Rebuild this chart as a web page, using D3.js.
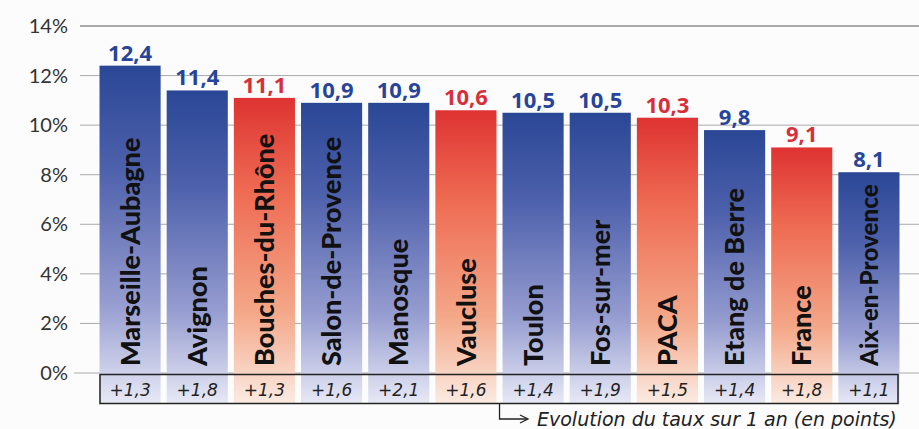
<!DOCTYPE html>
<html><head><meta charset="utf-8">
<script src="https://cdn.jsdelivr.net/npm/d3@7"></script>
<style>body{margin:0;background:#fcfcfc;}svg{display:block;}</style>
</head><body><svg id="c" width="919" height="429"></svg>
<script>
const categories = ["Marseille-Aubagne","Avignon","Bouches-du-Rhône","Salon-de-Provence","Manosque","Vaucluse","Toulon","Fos-sur-mer","PACA","Etang de Berre","France","Aix-en-Provence"];
const rates = [12.4,11.4,11.1,10.9,10.9,10.6,10.5,10.5,10.3,9.8,9.1,8.1];
const evolution = ["+1,3","+1,8","+1,3","+1,6","+2,1","+1,6","+1,4","+1,9","+1,5","+1,4","+1,8","+1,1"];
const highlight = [false,false,true,false,false,true,false,false,true,false,true,false];
const yTicks = [0,2,4,6,8,10,12,14];
const note = "Evolution du taux sur 1 an (en points)";

const svg = d3.select("#c");
const fmt = v => String(v).replace(".", ",");
const x = d3.scaleBand().domain(categories).range([97.5, 901.5]).paddingInner(0.09).paddingOuter(0.03);
const y = d3.scaleLinear().domain([0,14]).range([373,26]);

const defs = svg.append("defs");
const gb = defs.append("linearGradient").attr("id","gb").attr("x1",0).attr("y1",0).attr("x2",0).attr("y2",1);
[[0,"#2a4796"],[0.3,"#4d60ab"],[0.7,"#959cd0"],[1,"#e8e9f6"]].forEach(s=>gb.append("stop").attr("offset",s[0]).attr("stop-color",s[1]));
const gr = defs.append("linearGradient").attr("id","gr").attr("x1",0).attr("y1",0).attr("x2",0).attr("y2",1);
[[0,"#de3332"],[0.3,"#ee6a52"],[0.7,"#f4a788"],[1,"#fbebe2"]].forEach(s=>gr.append("stop").attr("offset",s[0]).attr("stop-color",s[1]));

// gridlines
svg.append("g").selectAll("line").data(yTicks).join("line")
  .attr("x1", d => d===0 ? 74 : 80).attr("x2", 919)
  .attr("y1", d => y(d)).attr("y2", d => y(d))
  .attr("stroke", d => d===14 ? "#555" : "#aaa").attr("stroke-width", 1);

// y tick labels
svg.append("g").selectAll("text").data(yTicks).join("text")
  .attr("x", 68).attr("y", d => y(d)).attr("dy","0.35em")
  .attr("text-anchor","end").attr("font-family","Lato, 'DejaVu Sans', sans-serif")
  .attr("font-size",20).attr("fill","#333").text(d => d + "%");

// bars (extend into bottom box)
svg.append("g").selectAll("rect").data(categories).join("rect")
  .attr("x", d => x(d)).attr("width", x.bandwidth())
  .attr("y", (d,i) => y(rates[i])).attr("height", (d,i) => 404 - y(rates[i]))
  .attr("fill", (d,i) => highlight[i] ? "url(#gr)" : "url(#gb)");

// value labels
svg.append("g").selectAll("text").data(categories).join("text")
  .attr("x", d => x(d) + x.bandwidth()/2).attr("y", (d,i) => y(rates[i]) - 5)
  .attr("text-anchor","middle").attr("font-family","'Open Sans', 'DejaVu Sans', sans-serif")
  .attr("font-weight","bold").attr("font-size",22)
  .attr("fill", (d,i) => highlight[i] ? "#d62f3a" : "#27449a").text((d,i) => fmt(rates[i]));

// category labels rotated, shrunk to fit inside bar
const base = 27, bottomY = 366;
svg.append("g").selectAll("text").data(categories).join("text")
  .attr("font-family","Lato, 'DejaVu Sans', sans-serif").attr("font-weight","900")
  .attr("font-size",base).attr("fill","#111").text(d => d)
  .each(function(d,i){
    const len = this.getComputedTextLength();
    const avail = bottomY - y(rates[i]) - 12;
    const fs = Math.min(base, base * avail / len);
    d3.select(this).attr("font-size", fs)
      .attr("transform", `translate(${x(d) + x.bandwidth()/2 + fs*0.36},${bottomY}) rotate(-90)`);
  });

// bottom box
svg.append("rect").attr("x",100).attr("y",374.5).attr("width",798).attr("height",29)
  .attr("fill","none").attr("stroke","#222").attr("stroke-width",1.5);

svg.append("g").selectAll("text").data(categories).join("text")
  .attr("x", d => x(d) + x.bandwidth()/2).attr("y", 396)
  .attr("text-anchor","middle").attr("font-family","'DejaVu Sans', sans-serif")
  .attr("font-style","italic").attr("font-size",17).attr("fill","#222")
  .text((d,i) => evolution[i]);

// note arrow
const ax = x(categories[6]) - 3;
svg.append("path").attr("d", `M${ax},404 V419 H527`).attr("fill","none").attr("stroke","#222").attr("stroke-width",1.3);
svg.append("path").attr("d", `M520,415 L528,419 L520,423`).attr("fill","none").attr("stroke","#222").attr("stroke-width",1.3);
svg.append("text").attr("x",537).attr("y",426).attr("font-family","'DejaVu Sans', sans-serif")
  .attr("font-style","italic").attr("font-size",19).attr("fill","#222").text(note);
</script></body></html>
